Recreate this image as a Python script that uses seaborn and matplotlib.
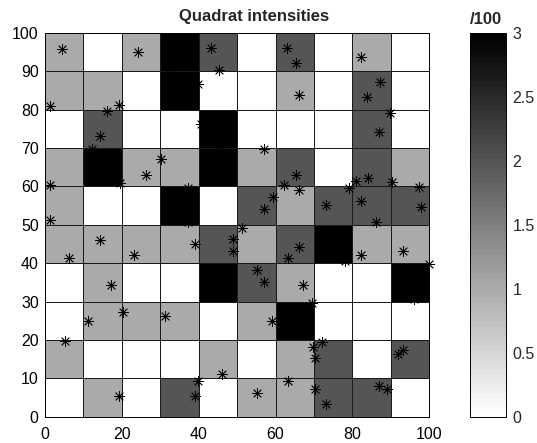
import matplotlib
matplotlib.use("Agg")
import matplotlib.pyplot as plt
from matplotlib.colors import ListedColormap
import numpy as np
import seaborn as sns

# Event locations in the 100 x 100 study window
pts_x = [4.3, 24.2, 33.5, 36.8, 32.4, 43.3, 45.3, 62.9, 65.3, 82.1,
         1.4, 19.3, 39.7, 34.2, 36.5, 66.1, 87.1, 83.8,
         14.4, 16.1, 40.5, 44.5, 46.8, 87.0, 89.8,
         1.4, 12.1, 19.6, 15.2, 26.3, 30.3, 43.2, 47.0, 45.5, 57.1, 65.2, 62.2,
         81.0, 84.1, 90.4,
         1.4, 37.1, 37.1, 34.0, 59.2, 57.1, 66.1, 73.2, 79.0, 82.1, 86.2, 97.9,
         97.2,
         6.3, 14.4, 23.2, 39.0, 49.0, 49.0, 51.3, 66.1, 63.2, 78.0, 73.5, 75.5,
         82.1, 93.1,
         17.1, 43.2, 46.8, 42.5, 55.1, 57.1, 67.1, 99.8, 96.1, 93.5,
         11.3, 20.3, 31.2, 59.0, 69.6, 63.5, 66.5,
         5.2, 46.1, 69.8, 72.1, 70.3, 93.1, 91.9,
         19.3, 39.0, 39.8, 55.1, 63.2, 70.2, 73.2, 87.0, 89.0]
pts_y = [95.8, 94.9, 96.5, 93.2, 91.0, 96.0, 90.3, 96.0, 92.0, 93.8,
         81.0, 81.1, 86.7, 84.0, 88.4, 83.9, 87.2, 83.2,
         73.1, 79.7, 76.1, 74.0, 77.6, 74.2, 79.1,
         60.3, 69.7, 60.8, 65.3, 62.9, 67.0, 66.2, 62.8, 69.5, 69.7, 62.9, 60.3,
         61.4, 62.1, 61.1,
         51.3, 50.8, 59.5, 55.0, 57.2, 54.0, 59.0, 55.1, 59.6, 56.2, 50.7, 54.5,
         59.7,
         41.2, 46.1, 42.1, 45.1, 46.2, 43.2, 49.1, 44.1, 41.2, 40.6, 46.0, 43.5,
         42.1, 43.2,
         34.3, 37.5, 33.5, 32.0, 38.2, 35.0, 34.3, 39.8, 30.6, 35.0,
         25.0, 27.2, 26.2, 25.0, 29.7, 25.5, 22.5,
         19.7, 11.2, 18.1, 19.4, 15.2, 17.4, 16.4,
         5.3, 5.3, 9.2, 6.2, 9.3, 7.3, 3.2, 8.1, 7.1]

# 10 x 10 quadrats, intensity per 100 square units
window = (0, 100)
n_quadrats = 10
x_ticks = [0, 20, 40, 60, 80, 100]
y_ticks = [0, 10, 20, 30, 40, 50, 60, 70, 80, 90, 100]
cbar_ticks = [0, 0.5, 1, 1.5, 2, 2.5, 3]
cbar_labels = ["0", "0.5", "1", "1.5", "2", "2.5", "3"]

sns.set_style("white")
plt.rcParams["font.family"] = ["Liberation Sans", "DejaVu Sans"]

W, H = 537, 443
fig = plt.figure(figsize=(W / 100, H / 100), dpi=100)
ax = fig.add_axes([45 / W, 1 - 416.7 / H, 384.3 / W, 384 / H])
cax = fig.add_axes([469.5 / W, 1 - 416.7 / H, 36.5 / W, 384 / H])

# 64-level grey ramp, white for empty quadrats to black for the densest
greys = ListedColormap(np.linspace(1, 0, 64)[:, None].repeat(3, axis=1))

sns.histplot(x=pts_x, y=pts_y, bins=n_quadrats, binrange=(window, window),
             thresh=None, cmap=greys, vmin=0, vmax=3,
             edgecolor="#1a1a1a", linewidth=0.55,
             cbar=True, cbar_ax=cax, ax=ax)

sns.scatterplot(x=pts_x, y=pts_y, marker=(8, 2, 0), s=52, color="black",
                edgecolor=None, linewidth=0.6, clip_on=False, zorder=5, ax=ax)

ax.set_xlim(window)
ax.set_ylim(window)
ax.set_xticks(x_ticks)
ax.set_yticks(y_ticks)
ax.set_xticklabels([str(v) for v in x_ticks])
ax.set_yticklabels([str(v) for v in y_ticks])
ax.tick_params(axis="both", direction="in", length=4, width=0.5,
               labelsize=11.5, colors="black")
ax.tick_params(axis="x", pad=7.5)
ax.tick_params(axis="y", pad=4.5)
ax.set_xlabel("")
ax.set_ylabel("")
for sp in ax.spines.values():
    sp.set_visible(True)
    sp.set_color("black")
    sp.set_linewidth(0.7)

cax.set_yticks(cbar_ticks)
cax.set_yticklabels(cbar_labels)
cax.tick_params(axis="y", which="both", direction="in", length=3, width=0.5,
                labelsize=11.5, pad=4.5, left=True, right=True)
cax.minorticks_off()
for sp in cax.spines.values():
    sp.set_color("black")
    sp.set_linewidth(0.7)

fig.text(254 / W, 1 - 20.7 / H, "Quadrat intensities", ha="center",
         va="baseline", fontsize=12, fontweight="bold")
fig.text(486 / W, 1 - 24.5 / H, "/100", ha="center", va="baseline",
         fontsize=12, fontweight="bold")

fig.savefig("out.png", dpi=100)
